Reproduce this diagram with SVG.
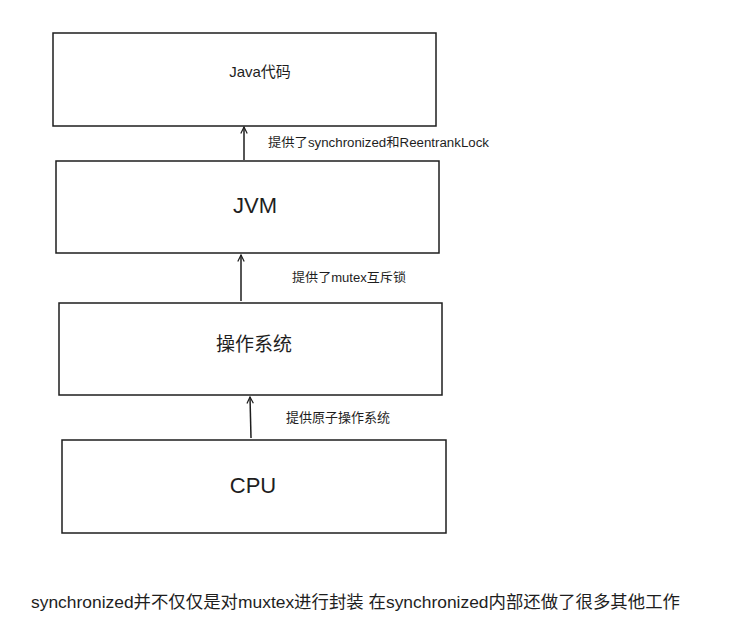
<svg xmlns="http://www.w3.org/2000/svg" width="745" height="644" viewBox="0 0 745 644">
<style>
.box{fill:#fff;stroke:#1e1e1e;stroke-width:1.5}
.t{font-family:"Liberation Sans","Noto Sans CJK SC",sans-serif;fill:#1e1e1e}
.c{stroke:#1e1e1e;stroke-width:1.5;fill:none}
</style>
<defs>
<marker id="ah" viewBox="0 0 10 10" refX="9" refY="5" markerWidth="8" markerHeight="8" orient="auto" markerUnits="userSpaceOnUse">
<path d="M1,1 L9,5 L1,9" fill="none" stroke="#1e1e1e" stroke-width="1.5"/>
</marker>
</defs>
<rect width="745" height="644" fill="#fff"/>
<g id="java">
<rect class="box" x="53" y="33" width="383" height="93"/>
<text class="t" x="260" y="77" font-size="15" text-anchor="middle">Java代码</text>
</g>
<g id="jvm">
<rect class="box" x="56" y="161" width="383" height="92"/>
<text class="t" x="255" y="213" font-size="22" text-anchor="middle">JVM</text>
</g>
<g id="os">
<rect class="box" x="59" y="303" width="383" height="92"/>
<text class="t" x="254" y="351" font-size="19" text-anchor="middle">操作系统</text>
</g>
<g id="cpu">
<rect class="box" x="62" y="440" width="384" height="93"/>
<text class="t" x="253" y="493" font-size="22" text-anchor="middle">CPU</text>
</g>
<g id="connectors">
<line class="c" x1="244" y1="160" x2="244" y2="127" marker-end="url(#ah)"/>
<line class="c" x1="241" y1="301" x2="241" y2="255" marker-end="url(#ah)"/>
<line class="c" x1="251" y1="438" x2="250" y2="397" marker-end="url(#ah)"/>
<text class="t" x="268" y="147" font-size="12.5" textLength="221" lengthAdjust="spacingAndGlyphs">提供了synchronized和ReentrankLock</text>
<text class="t" x="292" y="282" font-size="12.5" textLength="114" lengthAdjust="spacingAndGlyphs">提供了mutex互斥锁</text>
<text class="t" x="286" y="422" font-size="13">提供原子操作系统</text>
</g>
<text class="t" x="31" y="608" font-size="16.5" textLength="649" lengthAdjust="spacingAndGlyphs">synchronized并不仅仅是对muxtex进行封装 在synchronized内部还做了很多其他工作</text>
</svg>
